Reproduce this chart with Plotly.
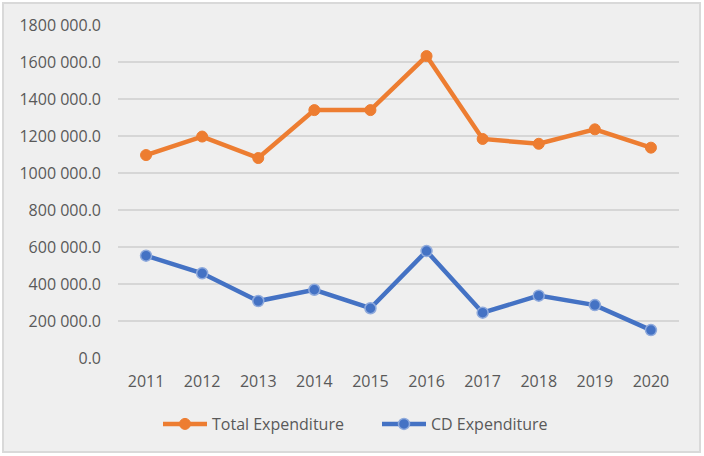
import plotly.graph_objects as go

years = ["2011", "2012", "2013", "2014", "2015", "2016", "2017", "2018", "2019", "2020"]
total_expenditure = [1097000, 1197000, 1081000, 1340000, 1340000, 1632000, 1184000, 1158000, 1236000, 1137000]
cd_expenditure = [553000, 458000, 308000, 369000, 269000, 578000, 245000, 337000, 286000, 151000]
y_ticks = [0, 200000, 400000, 600000, 800000, 1000000, 1200000, 1400000, 1600000, 1800000]
y_tick_labels = ["0.0", "200 000.0", "400 000.0", "600 000.0", "800 000.0",
                 "1000 000.0", "1200 000.0", "1400 000.0", "1600 000.0", "1800 000.0"]

font_family = "Open Sans, Noto Sans, sans-serif"
text_color = "#595959"

fig = go.Figure()
fig.add_trace(go.Scatter(
    x=years, y=total_expenditure, name="Total Expenditure",
    mode="lines+markers",
    line=dict(color="#ED7D31", width=4.5),
    marker=dict(color="#ED7D31", size=11, line=dict(color="#ED7D31", width=1)),
))
fig.add_trace(go.Scatter(
    x=years, y=cd_expenditure, name="CD Expenditure",
    mode="lines+markers",
    line=dict(color="#4472C4", width=4.5),
    marker=dict(color="#4472C4", size=11, line=dict(color="#8FAADC", width=1.5)),
))

L, R, T, B = 118, 25, 25, 98
W, H = 704, 456
pw, ph = W - L - R, H - T - B

fig.update_layout(
    width=W, height=H,
    margin=dict(l=L, r=R, t=T, b=B, pad=0),
    paper_bgcolor="#FFFFFF",
    plot_bgcolor="rgba(0,0,0,0)",
    font=dict(family=font_family, size=16, color=text_color),
    showlegend=True,
    legend=dict(
        orientation="h", x=(158 - L) / pw, xanchor="left", y=(358 - 424) / ph, yanchor="middle",
        font=dict(size=16, color=text_color),
        bgcolor="rgba(0,0,0,0)",
        itemwidth=44,
        entrywidth=160, entrywidthmode="pixels",
    ),
    xaxis=dict(
        type="category", range=[-0.5, 9.5],
        showgrid=False, showline=False, zeroline=False,
        ticks="", tickfont=dict(size=16, color=text_color),
        ticklabelstandoff=12,
    ),
    yaxis=dict(
        range=[0, 1800000], tickvals=y_ticks, ticktext=y_tick_labels,
        showgrid=True, gridcolor="#D6D6D6", gridwidth=1.5,
        zeroline=False, showline=False, ticks="",
        tickfont=dict(size=16, color=text_color),
        ticklabelstandoff=16,
    ),
    shapes=[dict(
        type="rect", xref="paper", yref="paper",
        x0=(3 - L) / pw, x1=(700 - L) / pw, y0=(358 - 452) / ph, y1=(358 - 3) / ph,
        line=dict(color="#D9D9D9", width=2), fillcolor="#EFEFEF",
        layer="below",
    )],
)

fig.write_html("out.html", config={"displayModeBar": False},
               post_script="document.body.style.margin='0';document.body.style.overflow='hidden';")
